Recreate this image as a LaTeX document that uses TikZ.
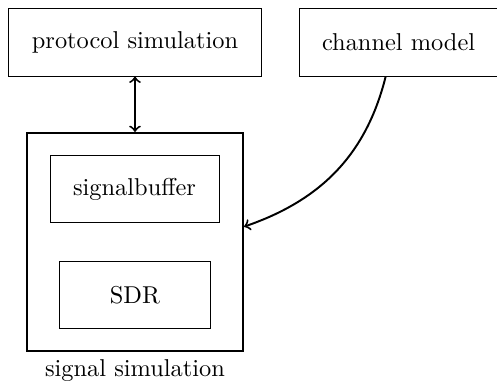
\documentclass[tikz,border=0pt]{standalone}
\usetikzlibrary{arrows}
\begin{document}
\begin{tikzpicture}[x=0.41pt,y=-0.41pt,
  box/.style={draw,thin,rectangle,inner sep=0pt,font=\normalsize},
  outerbox/.style={draw,thick,rectangle,inner sep=0pt},
  conn/.style={thick}]
\useasboundingbox (0,0) rectangle (497,381);
\node[box,minimum width=104.1pt,minimum height=27.5pt] (proto) at (135,42.5) {protocol simulation};
\node[box,minimum width=84.5pt,minimum height=27.5pt,text width=66.4pt,align=left] (chan) at (403,42.5) {channel model};
\node[outerbox,minimum width=88.6pt,minimum height=89.4pt] (sigsim) at (135,242) {};
\node[box,minimum width=69.3pt,minimum height=27.1pt] (buf) at (134.5,189) {signalbuffer};
\node[box,minimum width=62.3pt,minimum height=27.1pt] (sdr) at (135,295) {SDR};
\node (lbl) at (135,371) {signal simulation};
\draw[conn,<->] (proto.south) -- (sigsim.north);
\draw[conn,->] (chan.-117) to[out=-104,in=19] (sigsim.8);
\end{tikzpicture}
\end{document}
